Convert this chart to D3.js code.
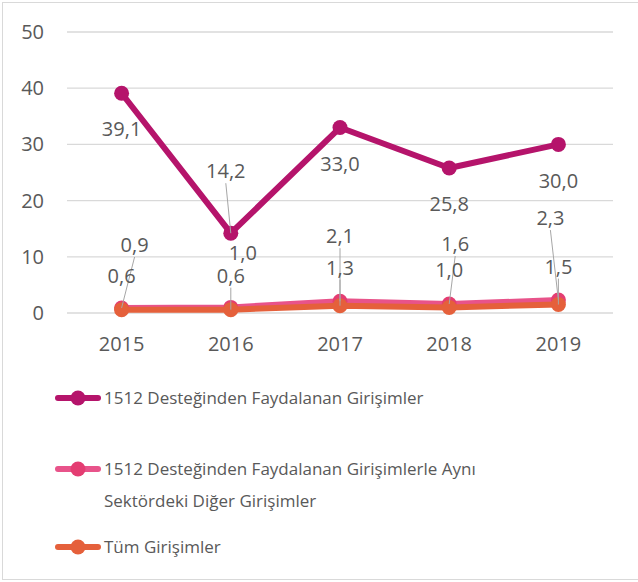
<!DOCTYPE html>
<html>
<head>
<meta charset="utf-8">
<script src="https://cdn.jsdelivr.net/npm/d3@7"></script>
<style>
  body { margin: 0; background: #fff; }
  svg text { font-family: "Open Sans", sans-serif; fill: #595959; }
</style>
</head>
<body>
<svg id="chart" width="638" height="582"></svg>
<script>
// data
const years = ["2015", "2016", "2017", "2018", "2019"];
const seriesNames = [
  "1512 Desteğinden Faydalanan Girişimler",
  "1512 Desteğinden Faydalanan Girişimlerle Aynı Sektördeki Diğer Girişimler",
  "Tüm Girişimler"
];
const supported = [39.1, 14.2, 33.0, 25.8, 30.0];
const sameSector = [0.9, 1.0, 2.1, 1.6, 2.3];
const allFirms = [0.6, 0.6, 1.3, 1.0, 1.5];
const yTicks = [0, 10, 20, 30, 40, 50];

const colors = ["#b5146b", "#e8538a", "#e5603b"];
const markerColors = ["#b5146b", "#e43d72", "#e5603b"];

// label offsets (dx, dy) from the point, and whether a leader line is drawn
const labelOffsets = [
  [[0, 36, 0], [-5, -62, 1], [0, 36, 0], [0, 36, 0], [0, 37, 0]],
  [[13, -63, 1], [12, -54, 0], [0, -65, 1], [6, -60, 1], [-8, -82, 1]],
  [[0, -34, 0], [0, -34, 1], [0, -38, 1], [0, -37, 0], [0, -38, 1]]
];

const svg = d3.select("#chart");
const fmt = v => d3.format(".1f")(v).replace(".", ",");

// outer frame
svg.append("rect")
  .attr("x", 2.5).attr("y", 2.5)
  .attr("width", 640).attr("height", 577)
  .attr("fill", "none").attr("stroke", "#d9d9d9");

const x = d3.scaleBand().domain(years).range([67, 613]);
const y = d3.scaleLinear().domain([0, 50]).range([313, 32]);
const cx = d => x(d) + x.bandwidth() / 2;

// gridlines
svg.append("g").selectAll("line")
  .data(yTicks)
  .join("line")
  .attr("x1", 67).attr("x2", 613)
  .attr("y1", d => y(d)).attr("y2", d => y(d))
  .attr("stroke", "#d9d9d9").attr("stroke-width", 1.3);

// y labels
svg.append("g").selectAll("text")
  .data(yTicks)
  .join("text")
  .attr("x", 44).attr("y", d => y(d))
  .attr("dy", "0.35em")
  .attr("text-anchor", "end")
  .attr("font-size", 20)
  .text(d => d);

// x labels
svg.append("g").selectAll("text")
  .data(years)
  .join("text")
  .attr("x", d => cx(d)).attr("y", 344)
  .attr("dy", "0.35em")
  .attr("text-anchor", "middle")
  .attr("font-size", 20)
  .text(d => d);

const allSeries = [supported, sameSector, allFirms];
const line = d3.line().x((d, i) => cx(years[i])).y(d => y(d));

allSeries.forEach((vals, s) => {
  const g = svg.append("g");
  g.append("path")
    .datum(vals)
    .attr("d", line)
    .attr("fill", "none")
    .attr("stroke", colors[s])
    .attr("stroke-width", 6)
    .attr("stroke-linejoin", "round");
  g.selectAll("circle")
    .data(vals)
    .join("circle")
    .attr("cx", (d, i) => cx(years[i]))
    .attr("cy", d => y(d))
    .attr("r", 7.5)
    .attr("fill", markerColors[s]);
});

// data labels with leader lines
allSeries.forEach((vals, s) => {
  const g = svg.append("g");
  vals.forEach((v, i) => {
    const px = cx(years[i]), py = y(v);
    const [dx, dy, lead] = labelOffsets[s][i];
    const lx = px + dx, ly = py + dy;
    if (lead) {
      g.append("line")
        .attr("x1", lx).attr("y1", dy < 0 ? ly + 12 : ly - 12)
        .attr("x2", px).attr("y2", py)
        .attr("stroke", "#a6a6a6").attr("stroke-width", 1);
    }
    g.append("text")
      .attr("x", lx).attr("y", ly)
      .attr("dy", "0.35em")
      .attr("text-anchor", "middle")
      .attr("font-size", 20)
      .text(fmt(v));
  });
});

// legend
const legendRows = [
  { lines: [seriesNames[0]], y: 398 },
  { lines: ["1512 Desteğinden Faydalanan Girişimlerle Aynı", "Sektördeki Diğer Girişimler"], y: 469 },
  { lines: [seriesNames[2]], y: 547 }
];
legendRows.forEach((row, s) => {
  const g = svg.append("g").attr("transform", `translate(0,${row.y})`);
  g.append("line")
    .attr("x1", 58).attr("x2", 98)
    .attr("stroke", colors[s]).attr("stroke-width", 6)
    .attr("stroke-linecap", "round");
  g.append("circle").attr("cx", 78).attr("r", 7.5).attr("fill", markerColors[s]);
  row.lines.forEach((t, k) => {
    g.append("text")
      .attr("x", 104).attr("y", k * 32)
      .attr("dy", "0.35em")
      .attr("font-size", 17)
      .text(t);
  });
});
</script>
</body>
</html>
